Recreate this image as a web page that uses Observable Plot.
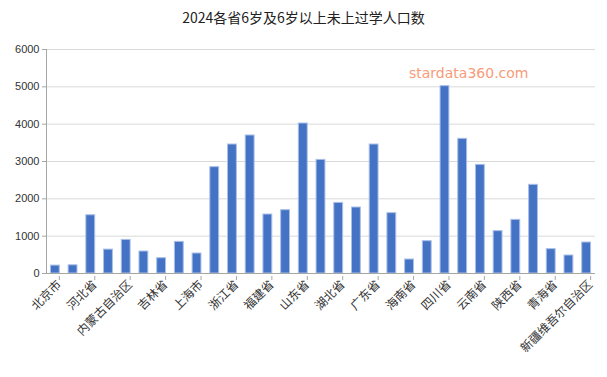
<!DOCTYPE html>
<html><head><meta charset="utf-8">
<script src="https://cdn.jsdelivr.net/npm/d3@7"></script>
<script src="https://cdn.jsdelivr.net/npm/@observablehq/plot@0.6"></script>
<style>
body{margin:0;background:#fff;font-family:"Noto Sans CJK SC","DejaVu Sans",sans-serif;}
#wrap{position:relative;width:607px;height:377px;}
#title{height:34px;line-height:34px;text-align:center;font-size:14px;color:#222;}
#wm{position:absolute;left:409px;top:65px;font-family:"DejaVu Sans",sans-serif;font-size:14px;color:#f79b78;}
</style></head>
<body><div id="wrap"><div id="title">2024各省6岁及6岁以上未上过学人口数</div><div id="wm">stardata360.com</div><div id="chart"></div></div>
<script>
const provinces = ["北京市","天津市","河北省","山西省","内蒙古自治区","辽宁省","吉林省","黑龙江省","上海市","江苏省","浙江省","安徽省","福建省","江西省","山东省","河南省","湖北省","湖南省","广东省","广西壮族自治区","海南省","重庆市","四川省","贵州省","云南省","西藏自治区","陕西省","甘肃省","青海省","宁夏回族自治区","新疆维吾尔自治区"];
const values = [212,220,1560,640,900,589,410,847,536,2848,3455,3697,1580,1696,4018,3043,1891,1768,3455,1616,375,866,5018,3607,2910,1134,1437,2375,652,482,830];
const tickLabels = ["北京市","河北省","内蒙古自治区","吉林省","上海市","浙江省","福建省","山东省","湖北省","广东省","海南省","四川省","云南省","陕西省","青海省","新疆维吾尔自治区"];
const yTicks = [0,1000,2000,3000,4000,5000,6000];
const data = provinces.map((p,i)=>({name:p,value:values[i]}));
const chart = Plot.plot({
  width:607, height:343,
  marginTop:15, marginBottom:104, marginLeft:46, marginRight:12,
  style:{fontFamily:'"Noto Sans CJK SC","DejaVu Sans",sans-serif', color:"#333"},
  x:{domain:provinces, paddingInner:0.5, paddingOuter:0.25, round:false, label:null},
  y:{domain:[0,6000], label:null},
  marks:[
    Plot.gridY(yTicks,{stroke:"#d9d9d9",strokeOpacity:1}),
    Plot.barY(data,{x:"name",y:"value",fill:"#4472C4",stroke:"#a9c0e8",strokeWidth:1}),
    Plot.ruleY([0],{stroke:"#a6a6a6"}),
    Plot.frame({anchor:"left",stroke:"#a6a6a6"}),
    Plot.axisY({ticks:yTicks,tickFormat:d=>String(d),tickSize:4,tickPadding:3,fontSize:11,fontFamily:'"Liberation Sans",Arial,sans-serif',stroke:"#a6a6a6",label:null}),
    Plot.axisX({ticks:tickLabels,tickSize:4,tickPadding:2,tickRotate:-45,fontSize:12,dx:4,dy:3,stroke:"#a6a6a6",label:null})
  ]
});
document.getElementById("chart").appendChild(chart);
</script></body></html>
